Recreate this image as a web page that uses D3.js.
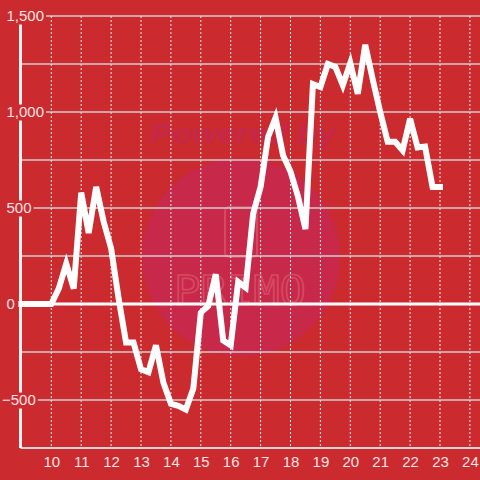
<!DOCTYPE html>
<html><head><meta charset="utf-8">
<script src="https://cdn.jsdelivr.net/npm/d3@7"></script>
<style>html,body{margin:0;padding:0;background:#cb2a2f;}svg{display:block;}</style>
</head><body>
<script>
const hours = [9,9.25,9.5,9.75,10,10.25,10.5,10.75,11,11.25,11.5,11.75,12,12.25,12.5,12.75,13,13.25,13.5,13.75,14,14.25,14.5,14.75,15,15.25,15.5,15.75,16,16.25,16.5,16.75,17,17.25,17.5,17.75,18,18.25,18.5,18.75,19,19.25,19.5,19.75,20,20.25,20.5,20.75,21,21.25,21.5,21.75,22,22.25,22.5,22.75,23];
const values = [0,0,0,0,0,80,210,80,580,370,610,430,290,30,-200,-200,-340,-355,-215,-410,-520,-530,-550,-440,-45,-10,155,-190,-215,115,85,470,610,870,970,775,690,560,390,1145,1130,1250,1235,1140,1255,1095,1350,1170,1000,845,845,800,965,815,820,610,610];
const xTicks = [10,11,12,13,14,15,16,17,18,19,20,21,22,23,24];
const yGrid = [-500,-250,0,250,500,750,1000,1250,1500];
const yLabels = [1500,1000,500,0,-500];

const W = 480, H = 480, bg = "#cb2a2f", txt = "#f4e4e4", font = "'Liberation Sans', Arial, sans-serif";
const svg = d3.select("body").append("svg").attr("width", W).attr("height", H);
svg.append("rect").attr("width", W).attr("height", H).attr("fill", bg);

const x = d3.scaleLinear().domain([10, 24]).range([51.3, 469.9]);
const y = d3.scaleLinear().domain([-750, 1500]).range([448, 16]);
const axisX = 20.5;

// watermark
const wm = svg.append("g");
wm.append("circle").attr("cx", 241).attr("cy", 257).attr("r", 99).attr("fill", "#c8284a");
wm.append("text").attr("x", 150).attr("y", 143).attr("textLength", 185).attr("lengthAdjust", "spacingAndGlyphs")
  .attr("font-family", font).attr("font-weight", "bold").attr("font-style", "italic").attr("font-size", 28)
  .attr("fill", "#c52848").text("Powered by");
wm.append("rect").attr("x", 225).attr("y", 207).attr("width", 32).attr("height", 50).attr("rx", 4)
  .attr("fill", "none").attr("stroke", "#d54a62").attr("stroke-width", 2);
wm.append("text").attr("x", 174).attr("y", 305).attr("textLength", 132).attr("lengthAdjust", "spacingAndGlyphs")
  .attr("font-family", "'DejaVu Sans Mono', monospace").attr("font-size", 40)
  .attr("fill", "none").attr("stroke", "#d54a62").attr("stroke-width", 1.6).text("PRIMO");

// vertical dotted grid
svg.append("g").selectAll("line").data(xTicks).join("line")
  .attr("x1", d => x(d)).attr("x2", d => x(d)).attr("y1", y(1500)).attr("y2", y(-750))
  .attr("stroke", "#eeeeee").attr("stroke-width", 1).attr("stroke-dasharray", "2,2");

// horizontal grid
svg.append("g").selectAll("line").data(yGrid.filter(d => d !== 0)).join("line")
  .attr("x1", axisX).attr("x2", W).attr("y1", d => y(d)).attr("y2", d => y(d))
  .attr("stroke", "#cfcfcf").attr("stroke-width", 1.5);
// bottom axis line
svg.append("line").attr("x1", axisX).attr("x2", W).attr("y1", y(-750)).attr("y2", y(-750))
  .attr("stroke", "#d6d6d6").attr("stroke-width", 1.8);

// y axis line
svg.append("line").attr("x1", axisX).attr("x2", axisX).attr("y1", y(1500)).attr("y2", y(-750))
  .attr("stroke", "#f4f0f0").attr("stroke-width", 3);

// zero line
svg.append("line").attr("x1", axisX).attr("x2", W).attr("y1", y(0)).attr("y2", y(0))
  .attr("stroke", "#ffffff").attr("stroke-width", 3);

// data line
const pts = hours.map((h, i) => [h, values[i]]);
svg.append("path").datum(pts)
  .attr("d", d3.line().x(d => x(d[0])).y(d => y(d[1])))
  .attr("fill", "none").attr("stroke", "#ffffff").attr("stroke-width", 6)
  .attr("stroke-linejoin", "miter").attr("stroke-linecap", "square");

// y labels with background
const fmt = d3.format(",");
const yl = svg.append("g").selectAll("g").data(yLabels).join("g");
yl.each(function(d) {
  const g = d3.select(this);
  const t = g.append("text").attr("x", d < 0 ? 2 : 6.5).attr("y", y(d)).attr("dy", "0.36em")
    .attr("font-family", font).attr("font-size", 15).attr("fill", txt).text(fmt(d));
  const bb = t.node().getBBox();
  g.insert("rect", "text").attr("x", bb.x - 1).attr("y", y(d) - 7.5).attr("width", bb.width + 3).attr("height", 16)
    .attr("fill", bg);
});

// x axis labels
const xa = svg.append("g").attr("transform", `translate(0,${y(-750)})`)
  .call(d3.axisBottom(x).tickValues(xTicks).tickSize(0).tickPadding(8).tickFormat(d3.format("d")));
xa.select(".domain").remove();
xa.selectAll("text").attr("font-family", font).attr("font-size", 15).attr("fill", txt);
</script>
</body></html>
